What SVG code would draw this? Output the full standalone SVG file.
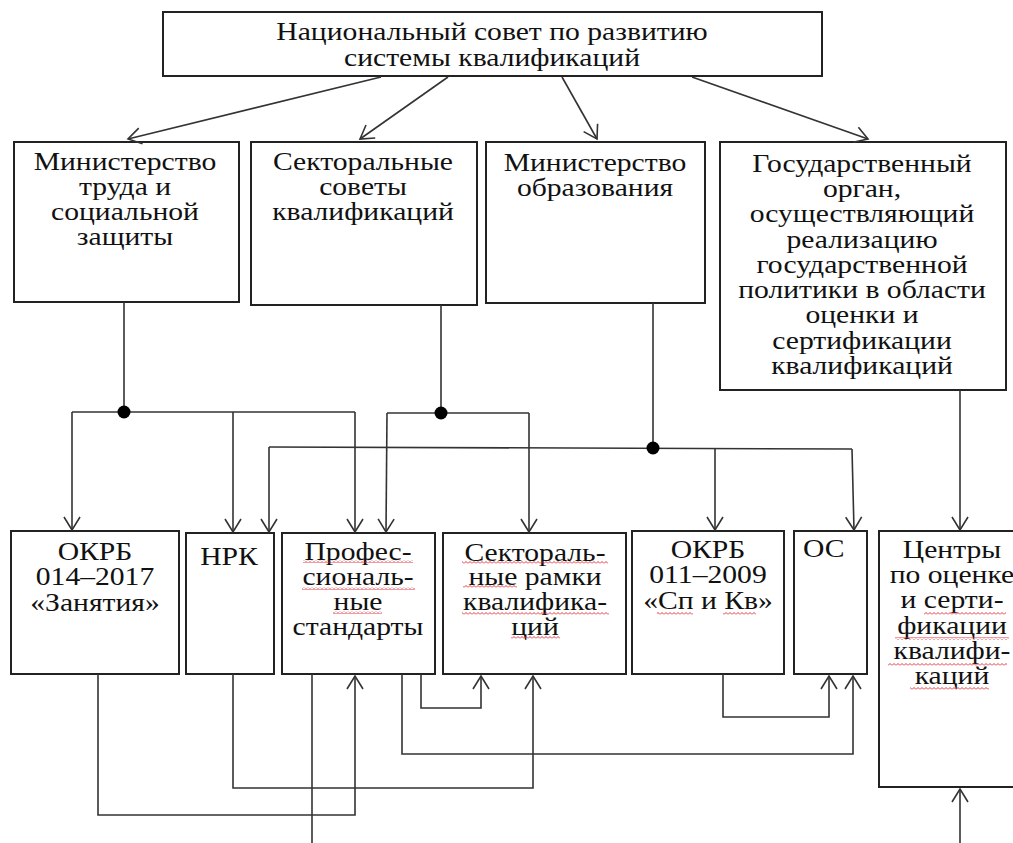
<svg xmlns="http://www.w3.org/2000/svg" width="1013" height="843" viewBox="0 0 1013 843">
<style>
.box{fill:#fff;stroke:#222;stroke-width:2}
.t text{font-family:"Liberation Serif","Times New Roman",serif;font-size:26px;fill:#111;text-anchor:middle}
.t.s text{text-anchor:start}
.c path{fill:none;stroke:#333;stroke-width:1.6}
.arr{marker-end:url(#ah)}
.dot{fill:#000}
.w{fill:url(#wave)}
</style>
<defs>
<marker id="ah" markerUnits="userSpaceOnUse" markerWidth="18" markerHeight="20" refX="14" refY="9" orient="auto" overflow="visible">
<path d="M1,1 L14,9 L1,17" fill="none" stroke="#333" stroke-width="1.6"/>
</marker>
<pattern id="wave" patternUnits="userSpaceOnUse" width="4" height="3">
<path d="M0,2.5 L2,0.5 L4,2.5" fill="none" stroke="#e0202a" stroke-width="0.9"/>
</pattern>
</defs>

<g id="n-council">
<rect class="box" x="163" y="12" width="659" height="64"/>
<g class="t" transform="translate(492 0) scale(1.14 1)">
<text x="0" y="40">Национальный совет по развитию</text>
<text x="0" y="66">системы квалификаций</text>
</g>
</g>

<g id="n-mintrud">
<rect class="box" x="14" y="142" width="225" height="160"/>
<g class="t" transform="translate(125 0) scale(1.14 1)">
<text x="0" y="170">Министерство</text>
<text x="0" y="195">труда и</text>
<text x="0" y="220">социальной</text>
<text x="0" y="245">защиты</text>
</g>
</g>

<g id="n-sovety">
<rect class="box" x="251" y="142" width="226" height="163"/>
<g class="t" transform="translate(363 0) scale(1.14 1)">
<text x="0" y="170">Секторальные</text>
<text x="0" y="195">советы</text>
<text x="0" y="220">квалификаций</text>
</g>
</g>

<g id="n-minobr">
<rect class="box" x="486" y="142" width="219" height="161"/>
<g class="t" transform="translate(595 0) scale(1.14 1)">
<text x="0" y="171">Министерство</text>
<text x="0" y="196">образования</text>
</g>
</g>

<g id="n-gosorgan">
<rect class="box" x="720" y="142" width="286" height="248"/>
<g class="t" transform="translate(862 0) scale(1.14 1)">
<text x="0" y="172">Государственный</text>
<text x="0" y="197">орган,</text>
<text x="0" y="222">осуществляющий</text>
<text x="0" y="248">реализацию</text>
<text x="0" y="273">государственной</text>
<text x="0" y="298">политики в области</text>
<text x="0" y="323">оценки и</text>
<text x="0" y="349">сертификации</text>
<text x="0" y="374">квалификаций</text>
</g>
</g>

<g id="n-okrb014">
<rect class="box" x="11" y="531" width="168" height="143"/>
<g class="t" transform="translate(95 0) scale(1.14 1)">
<text x="0" y="560">ОКРБ</text>
<text x="0" y="585">014–2017</text>
<text x="0" y="611">«Занятия»</text>
</g>
</g>

<g id="n-nrk">
<rect class="box" x="186" y="533" width="88" height="141"/>
<g class="t" transform="translate(229 0) scale(1.14 1)">
<text x="0" y="565">НРК</text>
</g>
</g>

<g id="n-profst">
<rect class="box" x="282" y="533" width="153" height="141"/>
<g class="t" transform="translate(358 0) scale(1.14 1)">
<text x="0" y="560">Профес-</text>
<text x="0" y="585">сиональ-</text>
<text x="0" y="610">ные</text>
<text x="0" y="635">стандарты</text>
</g>
<rect class="w" x="303" y="560" width="110" height="3"/>
<rect class="w" x="302" y="587" width="113" height="3"/>
<rect class="w" x="333" y="611" width="49" height="3"/>
</g>

<g id="n-ramki">
<rect class="box" x="443" y="533" width="183" height="141"/>
<g class="t" transform="translate(535 0) scale(1.14 1)">
<text x="0" y="561">Сектораль-</text>
<text x="0" y="585">ные рамки</text>
<text x="0" y="610">квалифика-</text>
<text x="0" y="635">ций</text>
</g>
<rect class="w" x="462" y="561" width="146" height="3"/>
<rect class="w" x="463" y="585" width="54" height="3"/>
<rect class="w" x="462" y="612" width="147" height="3"/>
<rect class="w" x="511" y="636" width="49" height="3"/>
</g>

<g id="n-okrb011">
<rect class="box" x="632" y="531" width="152" height="143"/>
<g class="t" transform="translate(708 0) scale(1.14 1)">
<text x="0" y="558">ОКРБ</text>
<text x="0" y="583">011–2009</text>
<text x="0" y="609">«Сп и Кв»</text>
</g>
<rect class="w" x="657" y="612" width="36" height="3"/>
<rect class="w" x="723" y="612" width="33" height="3"/>
</g>

<g id="n-os">
<rect class="box" x="794" y="531" width="73" height="143"/>
<g class="t s" transform="translate(803 0) scale(1.14 1)">
<text x="0" y="557">ОС</text>
</g>
</g>

<g id="n-centry">
<rect class="box" x="879" y="531" width="146" height="256"/>
<g class="t" transform="translate(952 0) scale(1.14 1)">
<text x="0" y="558">Центры</text>
<text x="0" y="583">по оценке</text>
<text x="0" y="608">и серти-</text>
<text x="0" y="634">фикации</text>
<text x="0" y="659">квалифи-</text>
<text x="0" y="684">каций</text>
</g>
<rect class="w" x="924" y="612" width="82" height="3"/>
<rect class="w" x="895" y="637" width="114" height="3"/>
<rect class="w" x="888" y="663" width="119" height="3"/>
<rect class="w" x="910" y="687" width="79" height="3"/>
</g>

<g id="connectors" class="c">
<path class="arr" d="M381,77 L128,139"/>
<path class="arr" d="M448,77 L360,139"/>
<path class="arr" d="M562,77 L597,139"/>
<path class="arr" d="M692,77 L868,139"/>

<path d="M124,302 L124,412"/>
<path d="M72,412 L355,412"/>
<path class="arr" d="M72,412 L72,530"/>
<path class="arr" d="M233,412 L233,532"/>
<path class="arr" d="M355,412 L355,532"/>

<path d="M441,305 L441,413"/>
<path d="M387,413 L529,413"/>
<path class="arr" d="M387,413 L386,532"/>
<path class="arr" d="M529,413 L529,532"/>

<path d="M653,303 L653,448"/>
<path d="M269,447 L852,449"/>
<path class="arr" d="M269,447 L269,532"/>
<path class="arr" d="M715,448 L715,530"/>
<path class="arr" d="M852,449 L854,530"/>

<path class="arr" d="M960,390 L960,530"/>

<path class="arr" d="M98,674 L98,815 L355,815 L355,676"/>
<path class="arr" d="M233,674 L233,788 L533,788 L533,676"/>
<path d="M312,674 L312,843"/>
<path class="arr" d="M402,674 L402,754 L853,754 L853,676"/>
<path class="arr" d="M421,674 L421,708 L481,708 L481,676"/>
<path class="arr" d="M723,674 L723,717 L829,717 L829,676"/>
<path class="arr" d="M960,843 L960,789"/>

<circle class="dot" cx="124" cy="412" r="6.5"/>
<circle class="dot" cx="441" cy="413" r="6.5"/>
<circle class="dot" cx="653" cy="448" r="6.5"/>
</g>
</svg>
